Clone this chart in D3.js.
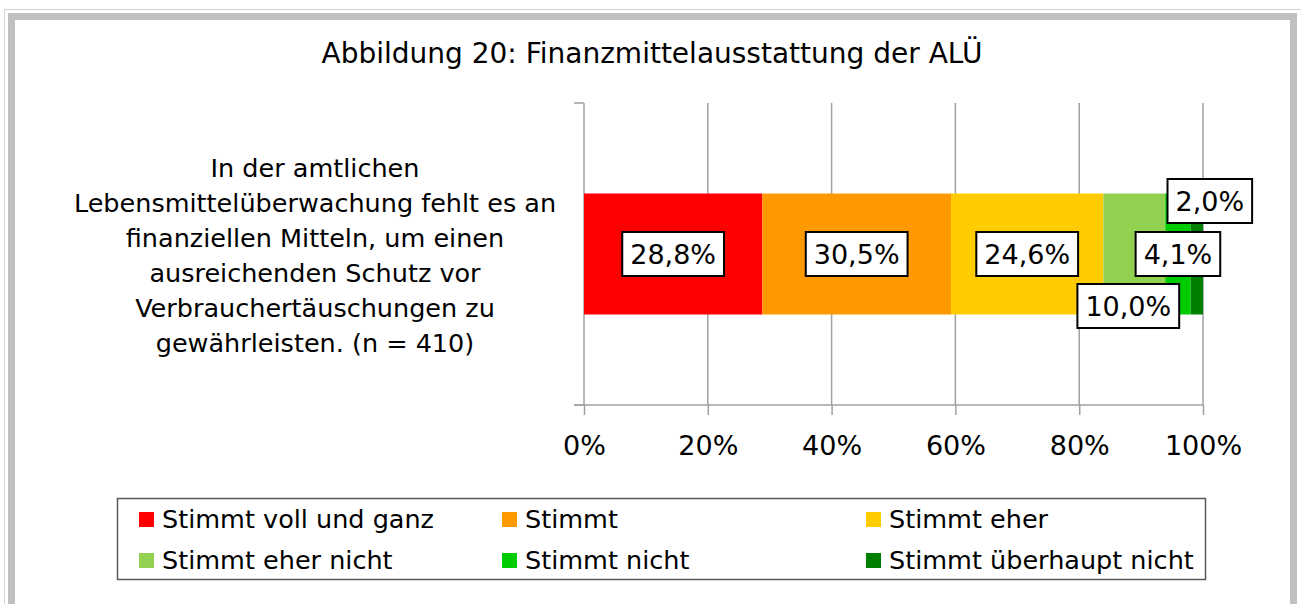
<!DOCTYPE html>
<html><head><meta charset="utf-8">
<script src="https://cdn.jsdelivr.net/npm/d3@7"></script>
<style>
html,body{margin:0;padding:0;background:#fff;}
svg text{font-family:"DejaVu Sans",Verdana,sans-serif;fill:#000;}
</style></head>
<body><svg id="c" width="1301" height="604"></svg>
<script>
const title = "Abbildung 20: Finanzmittelausstattung der ALÜ";
const categories = ["In der amtlichen|Lebensmittelüberwachung fehlt es an|finanziellen Mitteln, um einen|ausreichenden Schutz vor|Verbrauchertäuschungen zu|gewährleisten. (n = 410)"];
const seriesNames = ["Stimmt voll und ganz","Stimmt","Stimmt eher","Stimmt eher nicht","Stimmt nicht","Stimmt überhaupt nicht"];
const seriesValues = [28.8, 30.5, 24.6, 10.0, 4.1, 2.0];
const seriesColors = ["#ff0000","#ff9900","#ffcc00","#92d050","#00cc00","#008000"];
const tickValues = [0, 0.2, 0.4, 0.6, 0.8, 1.0];
const tickLabels = ["0%","20%","40%","60%","80%","100%"];

const svg = d3.select("#c");
// frame
svg.append("rect").attr("x",4.5).attr("y",9.5).attr("width",1300).attr("height",600)
  .attr("fill","none").attr("stroke","#d4d4d4").attr("stroke-width",1);
svg.append("rect").attr("x",11.5).attr("y",16.5).attr("width",1282).attr("height",594)
  .attr("fill","#fff").attr("stroke","#c0c0c0").attr("stroke-width",7);

svg.append("text").attr("x",652).attr("y",63).attr("text-anchor","middle")
  .style("font-size","28px").text(title);

const x = d3.scaleLinear().domain([0,1]).range([584,1203]);
const y = d3.scaleBand().domain(categories).range([103,405]).paddingInner(0).paddingOuter(0.748);
const axisColor = "#a0a0a0";

// gridlines
svg.append("g").selectAll("line").data(tickValues.slice(1)).join("line")
  .attr("x1",d=>x(d)).attr("x2",d=>x(d)).attr("y1",103).attr("y2",405)
  .attr("stroke",axisColor).attr("stroke-width",1.5);

// x axis
const xAxis = d3.axisBottom(x).tickValues(tickValues).tickFormat((d,i)=>tickLabels[i]).tickSize(10);
const gx = svg.append("g").attr("transform","translate(0,405)").call(xAxis);
gx.select(".domain").remove();
gx.append("line").attr("x1",574).attr("x2",1203).attr("y1",0).attr("y2",0).attr("stroke",axisColor).attr("stroke-width",1.5);
gx.selectAll(".tick line").attr("stroke",axisColor).attr("stroke-width",1.5);
gx.selectAll(".tick text").style("font-size","27px").attr("fill","#000").attr("y",50).attr("dy",0);

// y axis
const gy = svg.append("g");
gy.append("line").attr("x1",584).attr("x2",584).attr("y1",103).attr("y2",405).attr("stroke",axisColor).attr("stroke-width",1.5);
gy.selectAll("line.t").data(y.range()).join("line").attr("class","t")
  .attr("x1",574).attr("x2",584).attr("y1",d=>d).attr("y2",d=>d).attr("stroke",axisColor).attr("stroke-width",1.5);

// category label
categories.forEach(c=>{
  const lines = c.split("|");
  const cy = y(c) + y.bandwidth()/2;
  const lh = 35;
  const t = svg.append("text").attr("text-anchor","middle").style("font-size","25.5px");
  lines.forEach((l,i)=>{
    t.append("tspan").attr("x",315).attr("y",cy + (i-(lines.length-1)/2)*lh + 10).text(l);
  });
});

// stacked bars
let cum = 0;
const segs = seriesValues.map((v,i)=>{ const s={name:seriesNames[i],v,start:cum/100,end:(cum+v)/100,color:seriesColors[i]}; cum+=v; return s; });
const cat = categories[0];
svg.append("g").selectAll("rect").data(segs).join("rect")
  .attr("x",d=>x(d.start)).attr("width",d=>x(d.end)-x(d.start))
  .attr("y",y(cat)).attr("height",y.bandwidth()).attr("fill",d=>d.color);

// labels
const labelDx = [0,0,0,-6,0,13];
const labelDy = [0,0,0,52,0,-53];
const fmt = v => v.toFixed(1).replace(".",",")+"%";
const lg = svg.append("g");
segs.forEach((d,i)=>{
  const cx = (x(d.start)+x(d.end))/2 + labelDx[i];
  const cy = y(cat)+y.bandwidth()/2 + labelDy[i];
  const g = lg.append("g");
  const t = g.append("text").attr("x",cx).attr("y",cy).attr("text-anchor","middle").attr("dy","0.36em")
    .style("font-size","27px").text(fmt(d.v));
  const w = t.node().getComputedTextLength();
  g.insert("rect","text").attr("x",cx-w/2-8).attr("y",cy-22).attr("width",w+16).attr("height",44)
    .attr("fill","#fff").attr("stroke","#000").attr("stroke-width",2);
});

// legend
svg.append("rect").attr("x",117.5).attr("y",498.5).attr("width",1088).attr("height",81)
  .attr("fill","#fff").attr("stroke","#595959").attr("stroke-width",1.5);
const colX = [139, 502, 866];
const rowY = [528, 569];
const leg = svg.append("g").selectAll("g").data(seriesNames).join("g")
  .attr("transform",(d,i)=>`translate(${colX[i%3]},${rowY[Math.floor(i/3)]})`);
leg.append("rect").attr("x",0).attr("y",-16).attr("width",15).attr("height",15).attr("fill",(d,i)=>seriesColors[i]);
leg.append("text").attr("x",23).attr("y",0).style("font-size","25.5px").text(d=>d);
</script></body></html>
